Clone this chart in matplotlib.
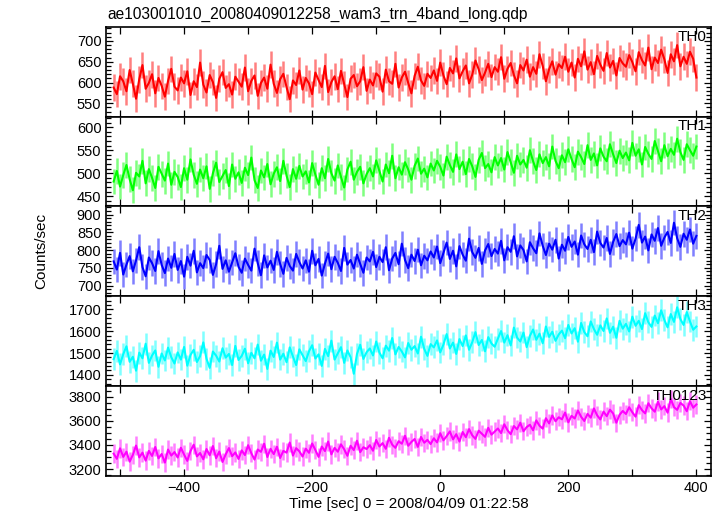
import numpy as np
import matplotlib
matplotlib.use("Agg")
import matplotlib.pyplot as plt
from matplotlib.ticker import MultipleLocator

plt.rcParams['font.family'] = ['Liberation Sans', 'DejaVu Sans']

# time bins (sec), 5 s wide
t_start = -510
t_stop = 400
t_bin = 5

th0 = [588, 572, 615, 603, 579, 630, 597, 561, 608, 642, 585, 599, 620, 574, 611, 592, 566, 604, 633, 590,
       581, 612, 598, 627, 570, 603, 589, 648, 595, 576, 618, 601, 563, 609, 625, 587, 596, 571, 614, 602,
       590, 636, 579, 604, 617, 568, 599, 612, 585, 643, 597, 575, 608, 621, 589, 560, 605, 594, 629, 583,
       611, 598, 572, 624, 606, 589, 640, 577, 601, 615, 584, 628, 596, 565, 609, 618, 591, 603, 637, 580,
       607, 593, 622, 614, 578, 631, 603, 597, 645, 588, 612, 626, 599, 574, 616, 638, 605, 592, 621, 611,
       629, 604, 648, 617, 596, 635, 622, 658, 610, 627, 641, 598, 619, 653, 632, 606, 624, 645, 613, 637,
       626, 661, 609, 633, 647, 618, 598, 642, 629, 655, 614, 637, 621, 668, 640, 603, 632, 651, 619, 644,
       635, 662, 626, 648, 612, 657, 639, 675, 631, 649, 620, 664, 643, 628, 671, 636, 652, 617, 659, 646,
       638, 666, 649, 627, 673, 654, 641, 684, 632, 660, 647, 679, 656, 623, 668, 651, 690, 639, 662, 645,
       674, 657, 612]

th1 = [482, 505, 471, 496, 518, 487, 463, 501, 493, 527, 478, 509, 490, 468, 514, 499, 484, 521, 475, 503,
       492, 470, 511, 486, 530, 497, 477, 508, 489, 515, 466, 500, 523, 481, 494, 507, 472, 519, 488, 502,
       479, 512, 496, 534, 485, 468, 506, 491, 520, 476, 499, 513, 483, 527, 495, 470, 509, 488, 516, 493,
       504, 480, 522, 497, 475, 511, 489, 531, 500, 484, 517, 492, 469, 508, 525, 486, 503, 514, 478, 498,
       511, 493, 528, 505, 482, 519, 500, 538, 489, 513, 497, 524, 508, 486, 516, 532, 499, 510, 491, 521,
       506, 527, 514, 495, 536, 518, 503, 541, 509, 525, 498, 531, 515, 492, 529, 544, 511, 520, 502, 535,
       517, 533, 508, 546, 524, 501, 538, 519, 529, 512, 550, 526, 507, 541, 522, 535, 515, 558, 527, 511,
       539, 524, 552, 531, 513, 547, 535, 520, 561, 529, 543, 517, 554, 536, 526, 563, 541, 522, 549, 533,
       545, 528, 566, 538, 552, 519, 557, 542, 531, 570, 548, 526, 561, 537, 553, 540, 575, 546, 529, 563,
       550, 538, 558]

th2 = [768, 745, 792, 731, 759, 783, 740, 771, 808, 752, 726, 779, 763, 741, 797, 758, 735, 776, 750, 789,
       744, 769, 725, 781, 756, 798, 737, 763, 749, 786, 772, 730, 760, 812, 747, 771, 739, 765, 791, 753,
       736, 776, 758, 742, 804, 763, 729, 785, 751, 770, 744, 795, 761, 733, 778, 755, 742, 789, 766, 748,
       771, 739, 798, 757, 775, 728, 762, 790, 746, 781, 764, 741, 806, 759, 772, 748, 787, 761, 736, 779,
       768, 795, 752, 781, 766, 808, 743, 776, 792, 760, 818, 772, 749, 787, 769, 801, 757, 784, 771, 796,
       779, 810, 763, 792, 821, 775, 798, 754, 811, 787, 770, 832, 794, 778, 806, 761, 799, 817, 783, 803,
       790, 826, 771, 808, 795, 839, 782, 813, 800, 768, 822, 805, 791, 847, 812, 786, 818, 801, 829, 776,
       815, 798, 837, 809, 824, 787, 841, 816, 803, 829, 794, 852, 820, 807, 834, 789, 823, 845, 811, 828,
       816, 849, 804, 832, 871, 821, 838, 799, 844, 826, 862, 812, 835, 851, 820, 877, 833, 809, 846, 829,
       858, 818, 840]

th3 = [1472, 1510, 1448, 1495, 1531, 1460, 1483, 1419, 1502, 1476, 1543, 1455, 1489, 1512, 1437, 1498, 1466, 1525, 1481, 1452,
       1503, 1470, 1528, 1442, 1491, 1515, 1459, 1486, 1549, 1474, 1432, 1507, 1488, 1461, 1522, 1479, 1496, 1445, 1533, 1468,
       1487, 1520, 1453, 1501, 1476, 1539, 1465, 1493, 1427, 1511, 1482, 1548, 1470, 1497, 1458, 1526, 1484, 1445, 1517, 1490,
       1463, 1508, 1536, 1475, 1494, 1441, 1519, 1486, 1557, 1470, 1499, 1527, 1455, 1512, 1481, 1405, 1496, 1538, 1473, 1504,
       1521, 1489, 1553, 1502, 1476, 1534, 1511, 1569, 1494, 1528, 1507, 1480, 1546, 1515, 1532, 1498, 1575, 1519, 1487, 1541,
       1526, 1558, 1503, 1539, 1587, 1521, 1548, 1496, 1564, 1532, 1581, 1515, 1550, 1596, 1537, 1560, 1508, 1573, 1544, 1529,
       1566, 1601, 1548, 1582, 1535, 1617, 1571, 1553, 1594, 1527, 1579, 1608, 1561, 1589, 1545, 1622, 1574, 1598, 1556, 1585,
       1603, 1568, 1629, 1590, 1614, 1552, 1638, 1596, 1577, 1645, 1610, 1584, 1627, 1601, 1659, 1593, 1621, 1570, 1648, 1612,
       1634, 1599, 1667, 1625, 1648, 1610, 1683, 1641, 1620, 1672, 1637, 1696, 1652, 1618, 1679, 1643, 1710, 1656, 1629, 1688,
       1645, 1607, 1622]

th0123 = [3328, 3285, 3372, 3301, 3344, 3262, 3318, 3395, 3297, 3336, 3270, 3351, 3309, 3383, 3289, 3325, 3254, 3362, 3312, 3341,
          3296, 3377, 3320, 3268, 3349, 3402, 3305, 3333, 3281, 3366, 3314, 3391, 3290, 3345, 3259, 3322, 3374, 3307, 3338, 3284,
          3355, 3316, 3398, 3331, 3279, 3362, 3343, 3410, 3300, 3368, 3324, 3385, 3292, 3351, 3336, 3420, 3312, 3373, 3347, 3304,
          3369, 3335, 3412, 3358, 3301, 3387, 3349, 3428, 3322, 3376, 3344, 3405, 3364, 3310, 3393, 3357, 3435, 3340, 3381, 3366,
          3398, 3352, 3441, 3387, 3415, 3368, 3459, 3402, 3376, 3431, 3410, 3476, 3393, 3425, 3449, 3384, 3466, 3418, 3442, 3407,
          3455, 3421, 3497, 3438, 3473, 3512, 3446, 3489, 3428, 3507, 3464, 3531, 3479, 3450, 3518, 3493, 3467, 3542, 3485, 3510,
          3536, 3498, 3571, 3522, 3489, 3556, 3529, 3584, 3513, 3548, 3567, 3521, 3603, 3559, 3535, 3621, 3578, 3644, 3596, 3629,
          3612, 3668, 3587, 3641, 3619, 3685, 3633, 3598, 3657, 3626, 3702, 3645, 3611, 3676, 3638, 3692, 3660, 3584, 3649, 3681,
          3656, 3712, 3670, 3634, 3729, 3688, 3661, 3745, 3703, 3675, 3758, 3694, 3721, 3667, 3781, 3713, 3690, 3748, 3726, 3679,
          3762, 3708, 3735]

names = ['TH0', 'TH1', 'TH2', 'TH3', 'TH0123']
errs = [32, 28, 36, 50, 76]          # typical 1-sigma error per bin
colors = ['#ff0000', '#00ff00', '#0000ff', '#00ffff', '#ff00ff']
ylims = [(518, 734), (428, 623), (670, 923), (1349, 1761), (3145, 3888)]
ymajor = [50, 50, 50, 100, 200]
yminor = [10, 10, 10, 20, 50]

t = np.arange(t_start, t_stop + 1, t_bin)
series = [th0, th1, th2, th3, th0123]

fig = plt.figure(figsize=(7.23, 5.16), dpi=100)
axes = fig.subplots(5, 1, sharex=True)
fig.subplots_adjust(left=0.147, right=0.984, top=0.948, bottom=0.078, hspace=0)

for i, ax in enumerate(axes):
    y = np.array(series[i])
    ax.errorbar(t, y, yerr=errs[i], fmt='none', ecolor=colors[i], alpha=0.5, lw=1.8)
    ax.plot(t, y, color=colors[i], lw=1.5)
    ax.set_ylim(ylims[i])
    ax.set_xlim(-521.5, 423.5)
    ax.yaxis.set_major_locator(MultipleLocator(ymajor[i]))
    ax.yaxis.set_minor_locator(MultipleLocator(yminor[i]))
    ax.xaxis.set_major_locator(MultipleLocator(200))
    ax.xaxis.set_minor_locator(MultipleLocator(100))
    ax.tick_params(which='both', direction='in', top=True, right=True, labelsize=10.5, width=0.9)
    ax.tick_params(which='major', length=5)
    ax.tick_params(which='minor', length=3.5)
    ax.tick_params(axis='x', which='minor', length=5)
    for sp in ax.spines.values():
        sp.set_linewidth(1.2)
    ax.text(0.992, 0.89, names[i], transform=ax.transAxes, ha='right', va='center', fontsize=11)

axes[-1].set_xlabel('Time [sec] 0 = 2008/04/09 01:22:58', fontsize=11, labelpad=2)
fig.text(0.057, 0.513, 'Counts/sec', rotation=90, ha='center', va='center', fontsize=11)
fig.text(0.148, 0.972, 'ae103001010_20080409012258_wam3_trn_4band_long.qdp', ha='left', va='center', fontsize=11.2)

fig.savefig('out.png', dpi=100)
